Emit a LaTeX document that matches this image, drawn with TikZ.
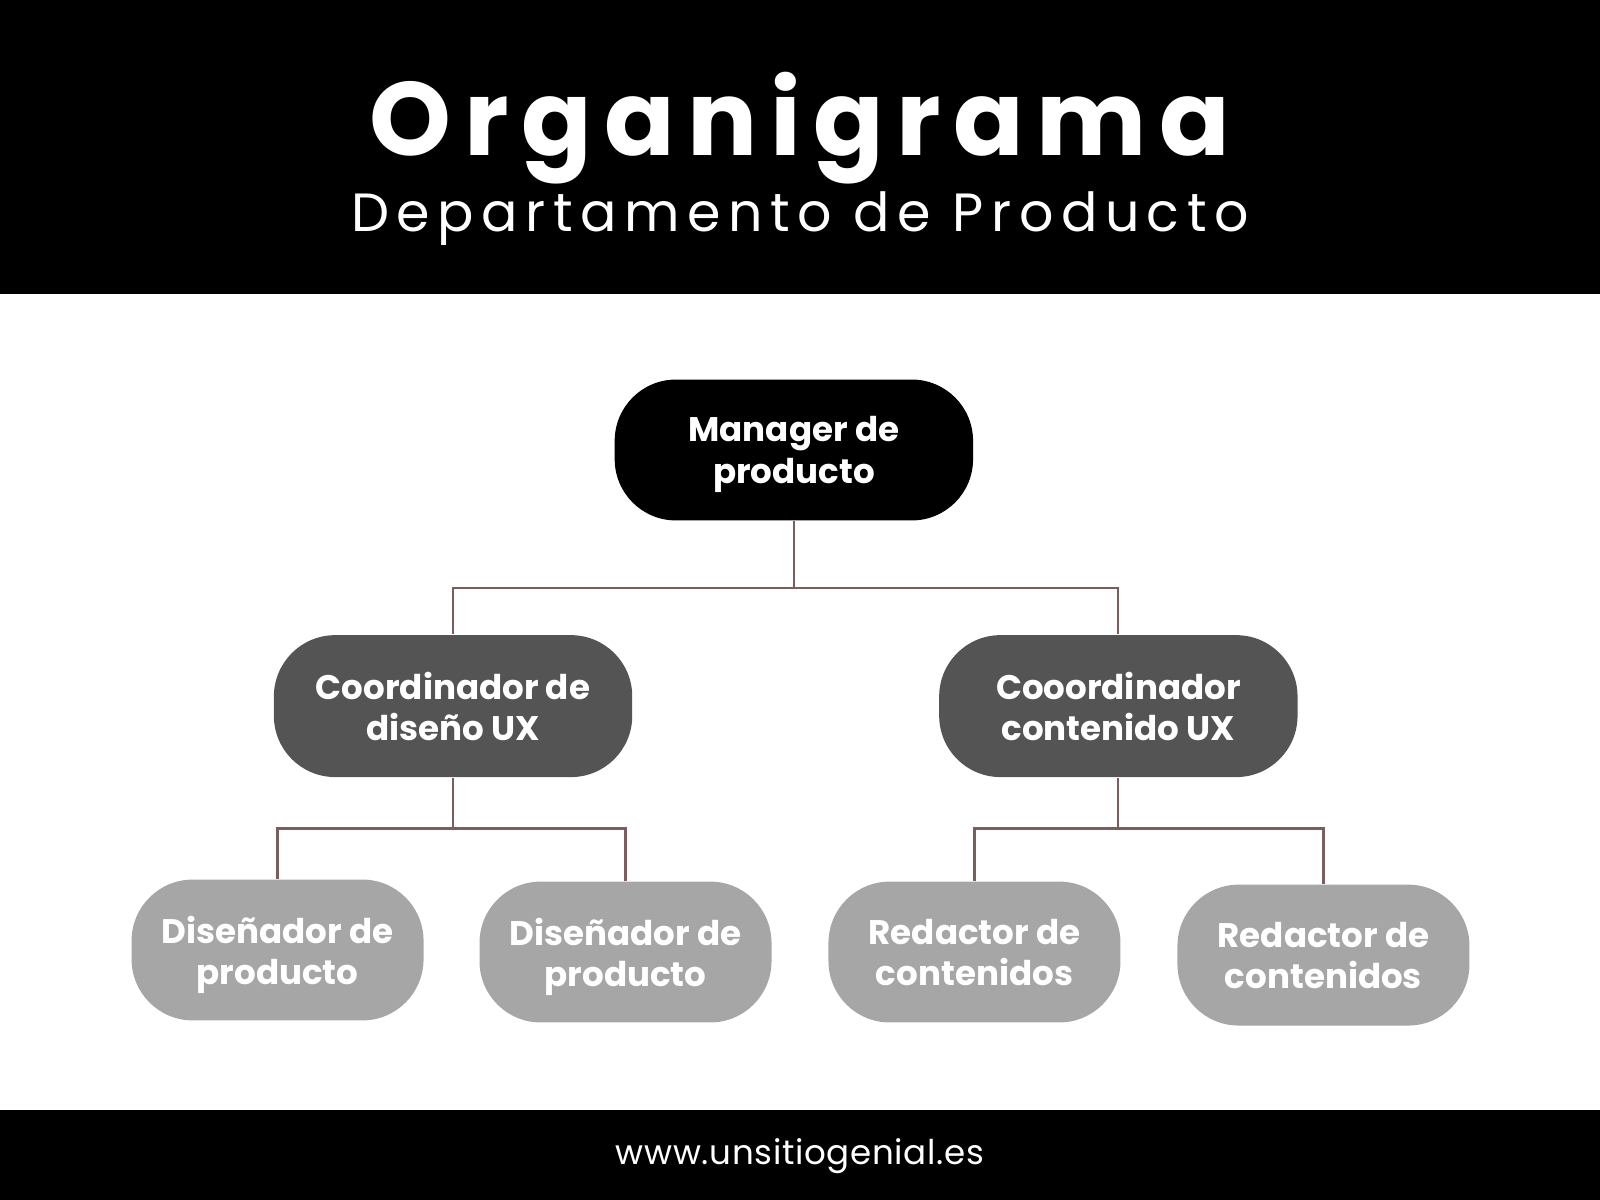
\documentclass[tikz,border=0pt]{standalone}
\usepackage{fontspec}
\setmainfont{Poppins}
\usetikzlibrary{positioning}
\definecolor{orgdark}{HTML}{545454}
\definecolor{orglight}{HTML}{A6A6A6}
\definecolor{orgline}{HTML}{7A5E5E}
\begin{document}
\begin{tikzpicture}[
    x=0.01cm, y=-0.01cm,
    box/.style={rectangle, rounded corners=0.6cm, text=white, align=center,
      font=\fontsize{9.5pt}{11.5pt}\selectfont\bfseries, inner sep=0pt, text depth=0pt},
    boss/.style={box, fill=black, minimum width=3.51cm, minimum height=1.38cm},
    coord/.style={box, fill=orgdark, minimum width=3.51cm, minimum height=1.39cm},
    staff/.style={box, fill=orglight, minimum width=2.86cm, minimum height=1.38cm},
    link/.style={draw=orgline, line width=0.6pt}
]
\useasboundingbox (0,0) rectangle (1568,1176);

% Header and footer bands
\fill[black] (0,0) rectangle (1568,288);
\fill[black] (0,1088) rectangle (1568,1176);
\node[text=white, inner sep=0pt, font=\fontsize{29pt}{31pt}\selectfont\bfseries\addfontfeature{LetterSpace=12}] (title) at (784,126) {Organigrama};
\node[text=white, inner sep=0pt, font=\fontsize{15pt}{17pt}\selectfont\addfontfeature{LetterSpace=14}] (subtitle) at (784,214) {Departamento de Producto};
\node[text=white, font=\fontsize{9.5pt}{11pt}\selectfont\addfontfeature{LetterSpace=2}] (web) at (784,1133) {www.unsitiogenial.es};

% Nodes
\node[boss] (manager) at (778,441) {Manager de\\producto};
\node[coord] (design) at (444,692) {Coordinador de\\diseño UX};
\node[coord] (content) at (1096,692) {Cooordinador\\contenido UX};
\node[staff] (des1) at (272,931) {Diseñador de\\producto};
\node[staff] (des2) at (613,933) {Diseñador de\\producto};
\node[staff] (red1) at (955,933) {Redactor de\\contenidos};
\node[staff] (red2) at (1297,936) {Redactor de\\contenidos};

% Connectors
\coordinate (busA) at (778,576);
\coordinate (busB) at (444,812);
\coordinate (busC) at (1096,812);
\draw[link] (manager.south) -- (busA) -| (design.north);
\draw[link] (busA) -| (content.north);
\draw[link] (design.south) -- (busB) -| (des1.north);
\draw[link] (busB) -| (des2.north);
\draw[link] (content.south) -- (busC) -| (red1.north);
\draw[link] (busC) -| (red2.north);

\end{tikzpicture}
\end{document}
